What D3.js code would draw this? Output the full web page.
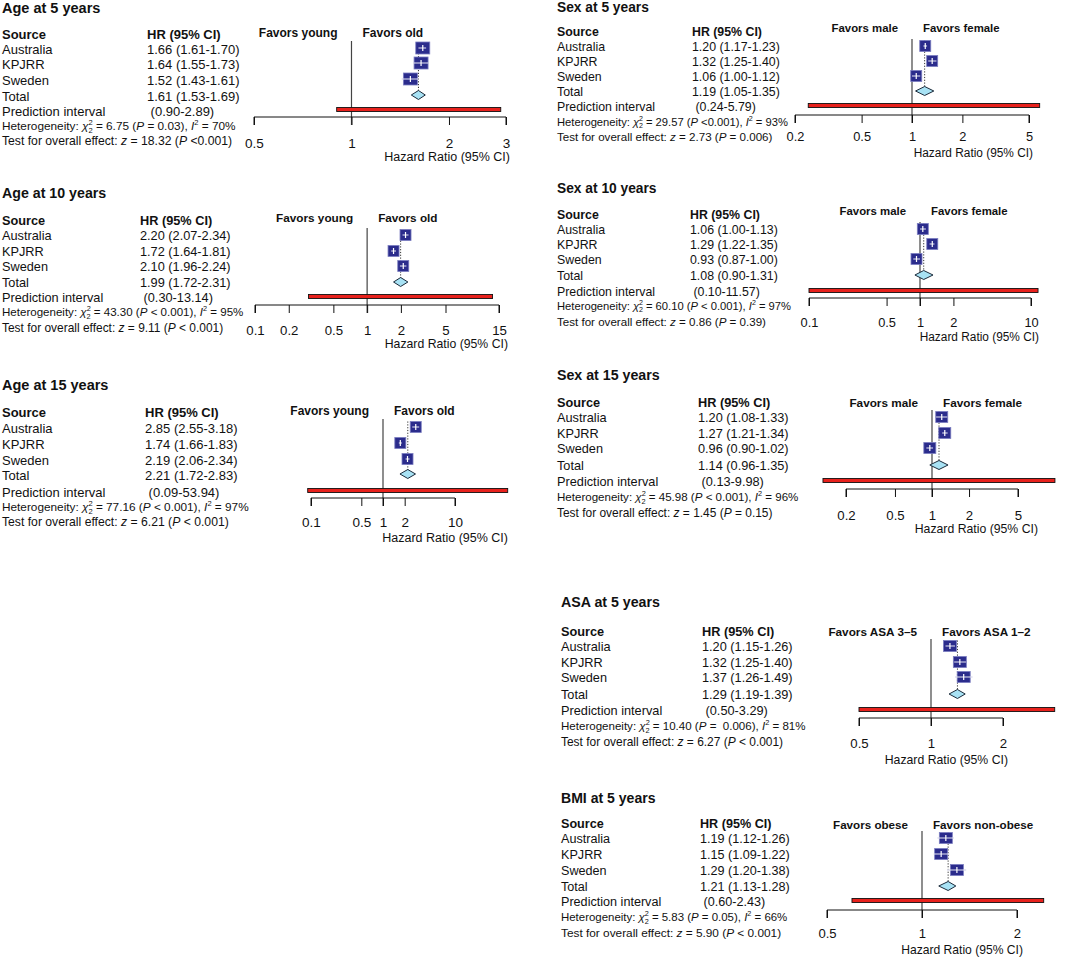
<!DOCTYPE html>
<html>
<head>
<meta charset="utf-8">
<script src="https://cdn.jsdelivr.net/npm/d3@7"></script>
<style>
  html, body { margin: 0; padding: 0; background: #fff; }
  svg { display: block; font-family: "Liberation Sans", Arial, Helvetica, sans-serif; }
</style>
</head>
<body>
<svg id="chart" width="1073" height="957"></svg>
<script>
// ---------------- DATA ----------------
const sources = ["Australia", "KPJRR", "Sweden"];
const titles = ["Age at 5 years", "Sex at 5 years", "Age at 10 years", "Sex at 10 years",
                "Age at 15 years", "Sex at 15 years", "ASA at 5 years", "BMI at 5 years"];
const favorsLeft = ["Favors young", "Favors male", "Favors young", "Favors male",
                    "Favors young", "Favors male", "Favors ASA 3\u20135", "Favors obese"];
const favorsRight = ["Favors old", "Favors female", "Favors old", "Favors female",
                     "Favors old", "Favors female", "Favors ASA 1\u20132", "Favors non-obese"];
const hr = [[1.66, 1.64, 1.52], [1.20, 1.32, 1.06], [2.20, 1.72, 2.10], [1.06, 1.29, 0.93],
            [2.85, 1.74, 2.19], [1.20, 1.27, 0.96], [1.20, 1.32, 1.37], [1.19, 1.15, 1.29]];
const ciLo = [[1.61, 1.55, 1.43], [1.17, 1.25, 1.00], [2.07, 1.64, 1.96], [1.00, 1.22, 0.87],
              [2.55, 1.66, 2.06], [1.08, 1.21, 0.90], [1.15, 1.25, 1.26], [1.12, 1.09, 1.20]];
const ciHi = [[1.70, 1.73, 1.61], [1.23, 1.40, 1.12], [2.34, 1.81, 2.24], [1.13, 1.35, 1.00],
              [3.18, 1.83, 2.34], [1.33, 1.34, 1.02], [1.26, 1.40, 1.49], [1.26, 1.22, 1.38]];
const totalHR = [1.61, 1.19, 1.99, 1.08, 2.21, 1.14, 1.29, 1.21];
const totalLo = [1.53, 1.05, 1.72, 0.90, 1.72, 0.96, 1.19, 1.13];
const totalHi = [1.69, 1.35, 2.31, 1.31, 2.83, 1.35, 1.39, 1.28];
const predLo = [0.90, 0.24, 0.30, 0.10, 0.09, 0.13, 0.50, 0.60];
const predHi = [2.89, 5.79, 13.14, 11.57, 53.94, 9.98, 3.29, 2.43];
const chi2 = ["6.75", "29.57", "43.30", "60.10", "77.16", "45.98", "10.40", "5.83"];
const hetP = ["= 0.03", "<0.001", "< 0.001", "< 0.001", "< 0.001", "< 0.001", "=  0.006", "= 0.05"];
const i2 = [70, 93, 95, 97, 97, 96, 81, 66];
const zVal = ["18.32", "2.73", "9.11", "0.86", "6.21", "1.45", "6.27", "5.90"];
const zP = ["<0.001", "= 0.006", "< 0.001", "= 0.39", "< 0.001", "= 0.15", "< 0.001", "< 0.001"];
const tickValues = [[0.5, 1, 2, 3], [0.2, 0.5, 1, 2, 5], [0.1, 0.2, 0.5, 1, 2, 5, 15], [0.1, 0.5, 1, 2, 10],
                    [0.1, 0.5, 1, 2, 10], [0.2, 0.5, 1, 2, 5], [0.5, 1, 2], [0.5, 1, 2]];

// ---------------- LAYOUT ----------------
const layout = [
  {fs: 1.00, tx: 2,   hrX: 147, titleY: 8,   srcY: 34,  favY: 33,  rows: [49, 64, 80, 96, 111, 127, 141], rng: [254, 506], axisY: 117, tickY: 143, hzY: 157, hzR: 510, bw: 14, bh: 12},
  {fs: 0.95, tx: 557, hrX: 692, titleY: 7,   srcY: 32,  favY: 28,  rows: [47, 62, 77, 92, 107, 123, 137], rng: [795, 1029], axisY: 115, tickY: 137, hzY: 153, hzR: 1033, bw: 11, bh: 11},
  {fs: 0.98, tx: 2,   hrX: 140, titleY: 193, srcY: 221, favY: 218, rows: [236, 252, 267, 283, 298, 313, 328], rng: [255, 499], axisY: 305, tickY: 330, hzY: 344, hzR: 508, bw: 11, bh: 11},
  {fs: 0.95, tx: 557, hrX: 690, titleY: 188, srcY: 215, favY: 211, rows: [230, 245, 260, 276, 292, 307, 322], rng: [809, 1031], axisY: 298, tickY: 323, hzY: 337, hzR: 1039, bw: 11, bh: 11},
  {fs: 1.00, tx: 2,   hrX: 145, titleY: 385, srcY: 412, favY: 411, rows: [428, 444, 460, 475, 492, 508, 522], rng: [311, 455], axisY: 498, tickY: 522, hzY: 538, hzR: 508, bw: 11, bh: 11},
  {fs: 0.98, tx: 557, hrX: 698, titleY: 375, srcY: 403, favY: 403, rows: [418, 434, 449, 466, 482, 498, 513], rng: [846, 1018], axisY: 489, tickY: 515, hzY: 529, hzR: 1038, bw: 12, bh: 11},
  {fs: 0.98, tx: 561, hrX: 702, titleY: 602, srcY: 632, favY: 632, rows: [647, 663, 678, 695, 711, 727, 742], rng: [859, 1003], axisY: 718, tickY: 743, hzY: 760, hzR: 1008, bw: 13, bh: 11},
  {fs: 0.97, tx: 561, hrX: 700, titleY: 798, srcY: 824, favY: 825, rows: [839, 855, 871, 887, 902, 918, 933], rng: [827, 1017], axisY: 910, tickY: 933, hzY: 950, hzR: 1023, bw: 13, bh: 11}
];

const BOX = "#2b2c8c", BOXEDGE = "#7b7dc0", DIA = "#a8e2f4", RED = "#e8211c";
const svg = d3.select("#chart");
const fmt = d3.format(".2f");
const tickFmt = v => String(v);

titles.forEach((title, p) => {
  const L = layout[p];
  const F = n => n * L.fs;
  const g = svg.append("g");
  const x = d3.scaleLog()
    .domain([tickValues[p][0], tickValues[p][tickValues[p].length - 1]])
    .range(L.rng);

  // Title
  g.append("text").attr("x", L.tx).attr("y", L.titleY).attr("dy", "0.35em")
    .attr("font-size", F(14.5)).attr("font-weight", "bold").attr("fill", "#111").text(title);
  // Headers
  g.append("text").attr("x", L.tx).attr("y", L.srcY).attr("dy", "0.35em")
    .attr("font-size", F(13)).attr("font-weight", "bold").attr("fill", "#111").text("Source");
  g.append("text").attr("x", L.hrX).attr("y", L.srcY).attr("dy", "0.35em")
    .attr("font-size", F(13)).attr("font-weight", "bold").attr("fill", "#111").text("HR (95% CI)");

  // Rows text
  const labels = sources.concat(["Total", "Prediction interval"]);
  const hrTexts = sources.map((s, i) => `${fmt(hr[p][i])} (${fmt(ciLo[p][i])}-${fmt(ciHi[p][i])})`)
    .concat([`${fmt(totalHR[p])} (${fmt(totalLo[p])}-${fmt(totalHi[p])})`,
             ` (${fmt(predLo[p])}-${fmt(predHi[p])})`]);
  labels.forEach((lab, i) => {
    g.append("text").attr("x", L.tx).attr("y", L.rows[i]).attr("dy", "0.35em")
      .attr("font-size", F(13)).attr("fill", "#111").text(lab);
    g.append("text").attr("x", L.hrX).attr("y", L.rows[i]).attr("dy", "0.35em")
      .attr("font-size", F(13)).attr("fill", "#111").attr("xml:space", "preserve").text(hrTexts[i]);
  });

  // Heterogeneity line
  const het = g.append("text").attr("x", L.tx).attr("y", L.rows[5] - 1).attr("dy", "0.35em")
    .attr("font-size", F(11.8)).attr("fill", "#111").attr("xml:space", "preserve");
  het.append("tspan").text("Heterogeneity: ");
  het.append("tspan").attr("font-style", "italic").text("\u03c7");
  het.append("tspan").attr("font-size", F(7.5)).attr("dy", -5).text("2");
  het.append("tspan").attr("font-size", F(7.5)).attr("dx", -4.2).attr("dy", 7.5).text("2");
  het.append("tspan").attr("dy", -2.5).text(` = ${chi2[p]} (`);
  het.append("tspan").attr("font-style", "italic").text("P");
  het.append("tspan").text(` ${hetP[p]}), `);
  het.append("tspan").attr("font-style", "italic").text("I");
  het.append("tspan").attr("font-size", F(7.5)).attr("dy", -5).text("2");
  het.append("tspan").attr("dy", 5).text(` = ${i2[p]}%`);

  // Test line
  const tst = g.append("text").attr("x", L.tx).attr("y", L.rows[6]).attr("dy", "0.35em")
    .attr("font-size", F(12.2)).attr("fill", "#111").attr("xml:space", "preserve");
  tst.append("tspan").text("Test for overall effect: ");
  tst.append("tspan").attr("font-style", "italic").text("z");
  tst.append("tspan").text(` = ${zVal[p]} (`);
  tst.append("tspan").attr("font-style", "italic").text("P");
  tst.append("tspan").text(` ${zP[p]})`);

  // Favors labels
  const x1 = x(1);
  g.append("text").attr("x", x1 - 14).attr("y", L.favY).attr("dy", "0.35em")
    .attr("text-anchor", "end").attr("font-size", F(12)).attr("font-weight", "bold").attr("fill", "#111")
    .text(favorsLeft[p]);
  g.append("text").attr("x", x1 + 11).attr("y", L.favY).attr("dy", "0.35em")
    .attr("font-size", F(12)).attr("font-weight", "bold").attr("fill", "#111")
    .text(favorsRight[p]);

  // Reference line at HR = 1
  g.append("line").attr("x1", x1).attr("x2", x1)
    .attr("y1", L.srcY + 7).attr("y2", L.axisY + 8)
    .attr("stroke", "#444").attr("stroke-width", 1.2);

  // Axis
  const axis = d3.axisBottom(x).tickValues(tickValues[p]).tickFormat(tickFmt).tickSize(8).tickPadding(10);
  const ax = g.append("g").attr("transform", `translate(0,${L.axisY})`).call(axis);
  ax.select(".domain").attr("stroke", "#111").attr("d", `M${L.rng[0]},8V0H${L.rng[1]}V8`);
  ax.selectAll(".tick line").attr("stroke", "#111");
  ax.selectAll(".tick text").attr("font-size", F(13.5)).attr("fill", "#111")
    .attr("font-family", "Liberation Sans, Arial, sans-serif")
    .attr("y", L.tickY - L.axisY).attr("dy", "0.35em");
  g.append("text").attr("x", L.hzR).attr("y", L.hzY).attr("dy", "0.35em")
    .attr("text-anchor", "end").attr("font-size", F(12.5)).attr("fill", "#111").text("Hazard Ratio (95% CI)");

  // Dotted summary line
  g.append("line").attr("x1", x(totalHR[p])).attr("x2", x(totalHR[p]))
    .attr("y1", L.rows[0] - 1 - L.bh / 2).attr("y2", L.rows[3] - 1 - 4)
    .attr("stroke", "#333").attr("stroke-width", 1).attr("stroke-dasharray", "1.2,1.6");

  // Study boxes
  sources.forEach((s, i) => {
    const cy = L.rows[i] - 1;
    const cx = x(hr[p][i]);
    g.append("line").attr("x1", x(ciLo[p][i])).attr("x2", x(ciHi[p][i])).attr("y1", cy).attr("y2", cy)
      .attr("stroke", "#c8c8e0").attr("stroke-width", 1);
    g.append("rect").attr("x", cx - L.bw / 2).attr("y", cy - L.bh / 2)
      .attr("width", L.bw).attr("height", L.bh)
      .attr("fill", BOX).attr("stroke", BOXEDGE).attr("stroke-width", 0.8);
    g.append("line").attr("x1", x(ciLo[p][i])).attr("x2", x(ciHi[p][i])).attr("y1", cy).attr("y2", cy)
      .attr("stroke", "#e8e8f4").attr("stroke-width", 1);
    g.append("line").attr("x1", cx).attr("x2", cx).attr("y1", cy - 3).attr("y2", cy + 3)
      .attr("stroke", "#ffffff").attr("stroke-width", 1.2);
  });

  // Diamond
  const dy = L.rows[3] - 1;
  g.append("path")
    .attr("d", `M${x(totalLo[p])},${dy}L${x(totalHR[p])},${dy - 4.5}L${x(totalHi[p])},${dy}L${x(totalHR[p])},${dy + 4.5}Z`)
    .attr("fill", DIA).attr("stroke", "#1b2a3a").attr("stroke-width", 1);

  // Prediction interval bar
  const py = L.rows[4] - 1.5;
  g.append("rect").attr("x", x(predLo[p])).attr("y", py - 2)
    .attr("width", x(predHi[p]) - x(predLo[p])).attr("height", 4)
    .attr("fill", RED).attr("stroke", "#111").attr("stroke-width", 0.9);
});
</script>
</body>
</html>
